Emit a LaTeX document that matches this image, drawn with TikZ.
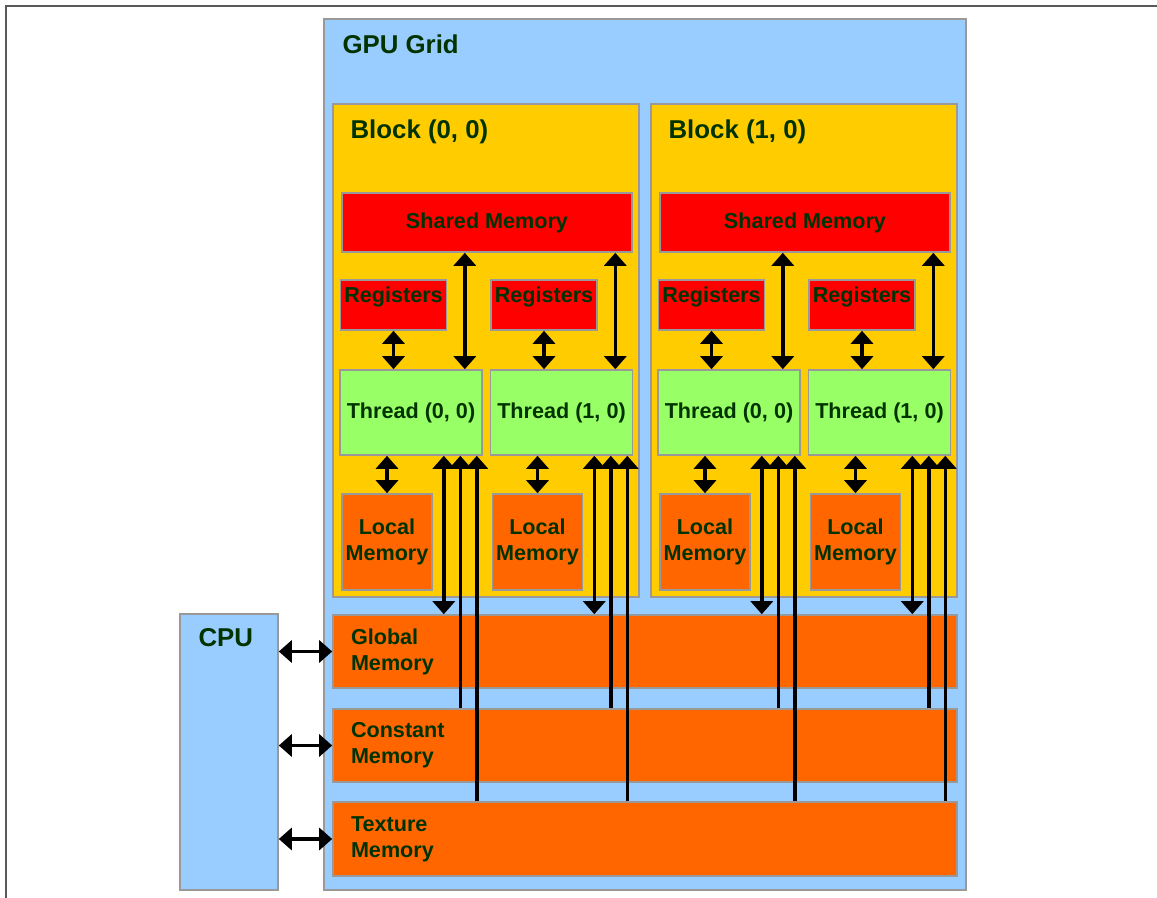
\documentclass[tikz,border=0pt]{standalone}
\usepackage{fontspec}
\setmainfont{Liberation Sans}
\usetikzlibrary{arrows.meta}
\definecolor{gridblue}{HTML}{99CCFF}
\definecolor{blockyellow}{HTML}{FFCC00}
\definecolor{memred}{HTML}{FF0000}
\definecolor{threadgreen}{HTML}{99FF66}
\definecolor{memorange}{HTML}{FF6600}
\definecolor{txtgreen}{HTML}{003300}
\definecolor{edgegray}{HTML}{999999}
\begin{document}
\begin{tikzpicture}[x=0.5pt,y=-0.5pt,
  box/.style={draw=edgegray,line width=0.8pt,inner sep=0pt,text=txtgreen,
    font=\bfseries\fontsize{10.8}{13}\selectfont},
  title/.style={anchor=west,inner sep=0pt,text=txtgreen,
    font=\bfseries\fontsize{12.9}{15}\selectfont},
  lbl/.style={anchor=north,inner sep=3.5pt,text=txtgreen,
    font=\bfseries\fontsize{10.8}{13}\selectfont},
  shared/.style={box,fill=memred,minimum width=145pt,minimum height=29.5pt},
  regs/.style={box,fill=memred,minimum width=53pt,minimum height=25pt},
  thread/.style={box,fill=threadgreen,minimum width=71pt,minimum height=42.5pt},
  local/.style={box,fill=memorange,minimum width=45pt,minimum height=48pt,align=center},
  mem/.style={box,fill=memorange,minimum width=312pt,minimum height=36.5pt,
    text width=294pt,inner xsep=9pt,align=left},
  link/.style={line width=1.7pt,{Triangle[width=11pt,length=6.5pt]}-{Triangle[width=11pt,length=6.5pt]}},
  up/.style={line width=1.7pt,-{Triangle[width=11pt,length=6.5pt]}}]
  \useasboundingbox (0,0) rectangle (1157,898);
  \draw[line width=1pt,black!65] (1157,6) -- (6,6) -- (6,898);
  % grid, host and the device memories
  \node[box,fill=gridblue,minimum width=321pt,minimum height=435.5pt] (grid) at (645,454.5) {};
  \node[title] at ([xshift=9.5pt,yshift=-13pt]grid.north west) {GPU Grid};
  \node[mem] (gm) at (645,651.5) {Global\\Memory};
  \node[mem] (cm) at (645,745.5) {Constant\\Memory};
  \node[mem,minimum height=37pt] (tm) at (645,839) {Texture\\Memory};
  \node[box,fill=gridblue,minimum width=49pt,minimum height=138pt] (cpu) at (229,752) {};
  \node[title] at ([xshift=9.5pt,yshift=-12pt]cpu.north west) {CPU};
  \foreach \m in {gm,cm,tm}
    \draw[link] (cpu.east |- \m.west) -- (\m.west);
  % the two blocks
  \foreach \b in {0,1} {
    \begin{scope}[xshift=\b*159pt]
      \node[box,fill=blockyellow,minimum width=153pt,minimum height=246.5pt] (b\b) at (486,350.5) {};
      \node[title] at ([xshift=9pt,yshift=-14.5pt]b\b.north west) {Block (\b, 0)};
      \node[shared] (sm\b) at (487,222.5) {Shared Memory};
      \foreach \t in {0,1} {
        \begin{scope}[xshift=\t*75.25pt]
          \node[regs,label={[lbl]north:Registers}] (r\b\t) at (393.5,305) {};
          \node[thread] (t\b\t) at (411,412.5) {Thread (\t, 0)};
          \node[local] (l\b\t) at (387,542) {Local\\Memory};
        \end{scope}
        \draw[link] (r\b\t.south) -- (r\b\t.south |- t\b\t.north);
        \draw[link] ([xshift=-9pt]t\b\t.north east) -- ([xshift=-9pt]t\b\t.north east |- sm\b.south);
        \draw[link] (l\b\t.north) -- (l\b\t.north |- t\b\t.south);
        \draw[link] ([xshift=-19.5pt]t\b\t.south east) -- ([xshift=-19.5pt]t\b\t.south east |- gm.north);
        \draw[up] ([xshift=-11.25pt]t\b\t.south east |- cm.north) -- ([xshift=-11.25pt]t\b\t.south east);
        \draw[up] ([xshift=-3pt]t\b\t.south east |- tm.north) -- ([xshift=-3pt]t\b\t.south east);
      }
    \end{scope}
  }
\end{tikzpicture}
\end{document}
